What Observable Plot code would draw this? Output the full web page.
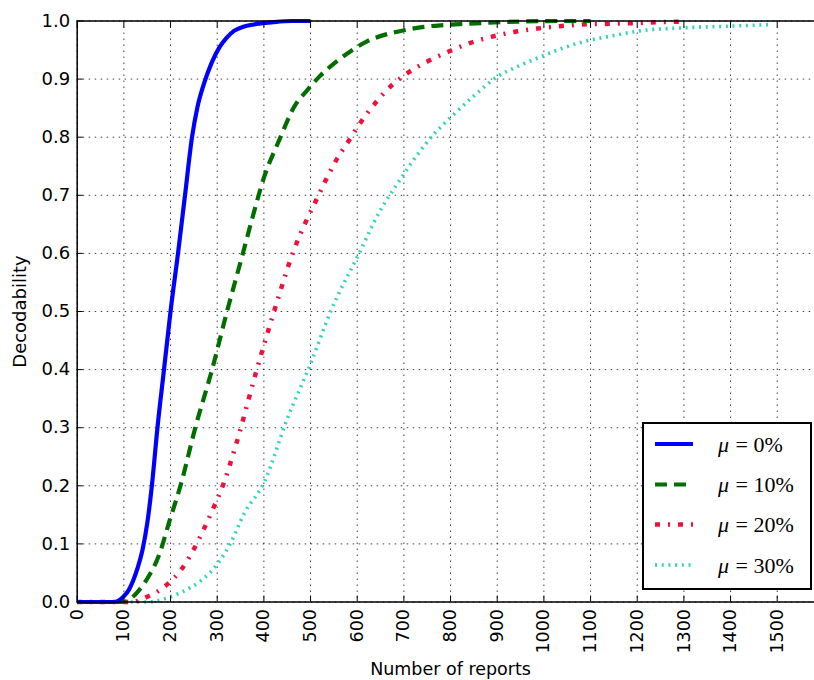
<!DOCTYPE html>
<html>
<head>
<meta charset="utf-8">
<script src="https://cdn.jsdelivr.net/npm/d3@7"></script>
<script src="https://cdn.jsdelivr.net/npm/@observablehq/plot@0.6"></script>
<style>
  html, body { margin: 0; padding: 0; background: #fff; overflow: hidden; }
  #wrap { position: relative; width: 814px; height: 680px; overflow: hidden; }
  #legend { position: absolute; left: 642px; top: 422px; width: 170px; height: 168px;
            box-sizing: border-box; border: 2px solid #000; background: #fff; }
</style>
</head>
<body>
<div id="wrap"></div>
<script>
// ---------- data ----------
const seriesNames = ["μ=0%", "μ=10%", "μ=20%", "μ=30%"];
const seriesLabelValues = ["0%", "10%", "20%", "30%"];

const mu0X = [0, 80, 90, 100, 110, 120, 130, 140, 150, 160, 172, 186, 200, 216, 231, 246, 258, 272, 288, 305, 320, 336, 356, 378, 420, 460, 500];
const mu0Y = [0, 0, 0.003, 0.01, 0.02, 0.037, 0.06, 0.09, 0.135, 0.2, 0.3, 0.4, 0.5, 0.6, 0.7, 0.8, 0.853, 0.893, 0.928, 0.955, 0.971, 0.983, 0.99, 0.994, 0.998, 1.0, 1.0];

const mu10X = [0, 100, 110, 130, 150, 175, 198, 223, 253, 289, 321, 355, 375, 400, 434, 464, 494, 521, 552, 586, 621, 662, 700, 743, 786, 830, 880, 950, 1030, 1100];
const mu10Y = [0, 0, 0.003, 0.018, 0.04, 0.08, 0.14, 0.205, 0.3, 0.4, 0.5, 0.6, 0.66, 0.73, 0.797, 0.851, 0.882, 0.906, 0.928, 0.948, 0.965, 0.977, 0.984, 0.99, 0.993, 0.995, 0.997, 0.999, 1.0, 1.0];

const mu20X = [0, 120, 130, 150, 170, 191, 224, 250, 271, 292, 312, 340, 382, 423, 464, 489, 510, 532, 554, 582, 607, 638, 671, 709, 752, 795, 841, 889, 935, 986, 1034, 1082, 1130, 1182, 1250, 1300];
const mu20Y = [0, 0, 0.002, 0.009, 0.017, 0.029, 0.057, 0.091, 0.125, 0.162, 0.2, 0.27, 0.392, 0.503, 0.605, 0.653, 0.688, 0.725, 0.759, 0.794, 0.825, 0.858, 0.887, 0.911, 0.931, 0.947, 0.962, 0.973, 0.981, 0.987, 0.991, 0.994, 0.995, 0.996, 0.998, 0.999];

const mu30X = [0, 150, 170, 193, 221, 264, 301, 329, 357, 400, 450, 500, 543, 604, 648, 693, 729, 764, 800, 850, 900, 950, 995, 1043, 1093, 1150, 1205, 1293, 1393, 1490];
const mu30Y = [0, 0, 0.002, 0.007, 0.016, 0.036, 0.066, 0.102, 0.151, 0.205, 0.315, 0.41, 0.5, 0.6, 0.672, 0.728, 0.77, 0.805, 0.834, 0.871, 0.904, 0.924, 0.939, 0.954, 0.966, 0.975, 0.983, 0.988, 0.991, 0.994];

const xTickValues = [0, 100, 200, 300, 400, 500, 600, 700, 800, 900, 1000, 1100, 1200, 1300, 1400, 1500];
const yTickValues = [0, 0.1, 0.2, 0.3, 0.4, 0.5, 0.6, 0.7, 0.8, 0.9, 1.0];
const xDomain = [0, 1600];
const yDomain = [0, 1];
const xLabel = "Number of reports";
const yLabel = "Decodability";

// ---------- styles ----------
const styles = [
  {color: "#0000ff", width: 4.2, dash: null},
  {color: "#006f00", width: 4.2, dash: "12,7"},
  {color: "#f0103a", width: 4.5, dash: "5,8,2,8"},
  {color: "#2fd6b5", width: 3.6, dash: "2,4.7"}
];

const seriesX = [mu0X, mu10X, mu20X, mu30X];
const seriesY = [mu0Y, mu10Y, mu20Y, mu30Y];
const tables = seriesX.map((xs, i) => xs.map((x, j) => ({x, y: seriesY[i][j], s: seriesNames[i]})));

const FONT = "DejaVu Sans, sans-serif";
const W = 814, H = 680;

const marks = [
  Plot.gridX(xTickValues, {stroke: "#000", strokeOpacity: 0.75, strokeWidth: 1, strokeDasharray: "1.5,4.5"}),
  Plot.gridY(yTickValues, {stroke: "#000", strokeOpacity: 0.75, strokeWidth: 1, strokeDasharray: "1.5,4.5"}),
];
// draw in reverse so that blue is on top
for (let i = tables.length - 1; i >= 0; i--) {
  const st = styles[i];
  marks.push(Plot.line(tables[i], {
    x: "x", y: "y", stroke: st.color, strokeWidth: st.width,
    strokeDasharray: st.dash || undefined, strokeLinecap: "butt", strokeLinejoin: "round",
    curve: "monotone-x"
  }));
}
marks.push(
  Plot.frame({stroke: "#000", strokeWidth: 1.5}),
  // inward tick marks
  Plot.axisX(xTickValues, {anchor: "bottom", tickSize: -6, tickFormat: () => "", label: null, strokeWidth: 1}),
  Plot.axisX(xTickValues, {anchor: "top", tickSize: -6, tickFormat: () => "", label: null, strokeWidth: 1}),
  Plot.axisY(yTickValues, {anchor: "left", tickSize: -6, tickFormat: () => "", label: null, strokeWidth: 1}),
  // labels
  Plot.axisX(xTickValues, {anchor: "bottom", tickSize: 0, tickPadding: 7, tickRotate: -90,
    tickFormat: d => String(d), fontSize: 17.5, label: xLabel, labelAnchor: "center", labelArrow: "none", labelOffset: 73}),
  Plot.axisY(yTickValues, {anchor: "left", tickSize: 0, tickPadding: 7,
    tickFormat: d => d.toFixed(1), fontSize: 18, label: yLabel, labelAnchor: "center", labelArrow: "none", labelOffset: 64})
);

const chart = Plot.plot({
  width: W, height: H,
  marginLeft: 76.7, marginRight: -9.4, marginTop: 20.5, marginBottom: 78.5,
  style: {fontFamily: FONT, fontSize: "18px", color: "#000", background: "#fff", overflow: "hidden"},
  x: {domain: xDomain},
  y: {domain: yDomain},
  marks
});
const wrap = document.getElementById("wrap");
wrap.appendChild(chart);

// ---------- legend ----------
const legend = document.createElement("div");
legend.id = "legend";
const ns = "http://www.w3.org/2000/svg";
const lsvg = document.createElementNS(ns, "svg");
lsvg.setAttribute("width", "166");
lsvg.setAttribute("height", "164");
const rowY = [20, 60.5, 100.5, 141];
seriesNames.forEach((name, i) => {
  const st = styles[i];
  const ln = document.createElementNS(ns, "line");
  ln.setAttribute("x1", 11); ln.setAttribute("x2", 49);
  ln.setAttribute("y1", rowY[i]); ln.setAttribute("y2", rowY[i]);
  ln.setAttribute("stroke", st.color);
  ln.setAttribute("stroke-width", st.width);
  if (st.dash) ln.setAttribute("stroke-dasharray", st.dash);
  lsvg.appendChild(ln);
  const t = document.createElementNS(ns, "text");
  t.setAttribute("x", 74); t.setAttribute("y", rowY[i] + 7.5);
  t.setAttribute("font-family", "Liberation Serif, serif");
  t.setAttribute("font-size", "22");
  const t1 = document.createElementNS(ns, "tspan");
  t1.setAttribute("font-style", "italic");
  t1.textContent = "μ";
  const t2 = document.createElementNS(ns, "tspan");
  t2.textContent = " = " + seriesLabelValues[i];
  t2.setAttribute("dx", "1");
  t.appendChild(t1); t.appendChild(t2);
  lsvg.appendChild(t);
});
legend.appendChild(lsvg);
wrap.appendChild(legend);
</script>
</body>
</html>
